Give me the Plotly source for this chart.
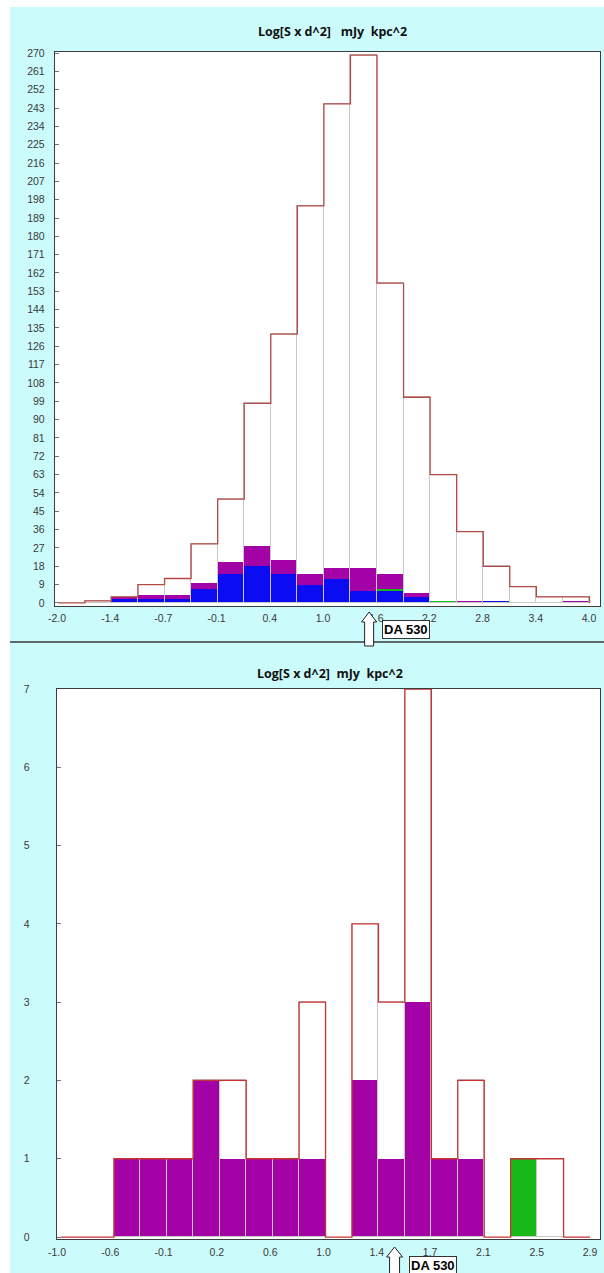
import numpy as np
import plotly.graph_objects as go

W, H = 604, 1273

# ---------------- data: upper histogram ----------------
top_bin_start = -1.985
top_bin_width = 0.2995
top_total  = [0, 1, 3, 9, 12, 29, 51, 98, 132, 195, 245, 269, 157, 101, 63, 35, 18, 8, 3, 3]
top_blue   = [0, 0, 2, 2, 2, 7, 14, 18, 14, 9, 12, 6, 6, 3, 0, 0, 1, 0, 0, 0]
top_green  = [0, 0, 0, 0, 0, 0, 0, 0, 0, 0, 0, 0, 1, 0, 1, 0, 0, 0, 0, 0]
top_purple = [0, 0, 1, 2, 2, 3, 6, 10, 7, 5, 5, 11, 7, 2, 0, 1, 0, 0, 0, 1]
top_tick_vals = [-2.0, -1.4, -0.8, -0.2, 0.4, 1.0, 1.6, 2.2, 2.8, 3.4, 4.0]
top_tick_text = ["-2.0", "-1.4", "-0.7", "-0.1", "0.4", "1.0", "1.6", "2.2", "2.8", "3.4", "4.0"]
top_da530 = 1.52

# ---------------- data: lower histogram ----------------
bot_bin_start = -0.97
bot_bin_width = 0.1935
bot_total  = [0, 0, 1, 1, 1, 2, 2, 1, 1, 3, 0, 4, 3, 7, 1, 2, 0, 1, 1, 0]
bot_blue   = [0, 0, 0, 0, 0, 0, 0, 0, 0, 0, 0, 0, 0, 0, 0, 0, 0, 0, 0, 0]
bot_green  = [0, 0, 0, 0, 0, 0, 0, 0, 0, 0, 0, 0, 0, 0, 0, 0, 0, 1, 0, 0]
bot_purple = [0, 0, 1, 1, 1, 2, 1, 1, 1, 1, 0, 2, 1, 3, 1, 1, 0, 0, 0, 0]
bot_tick_vals = [-1.0, -0.61, -0.22, 0.17, 0.56, 0.95, 1.34, 1.73, 2.12, 2.51, 2.9]
bot_tick_text = ["-1.0", "-0.6", "-0.1", "0.2", "0.6", "1.0", "1.4", "1.7", "2.1", "2.5", "2.9"]
bot_da530 = 1.47

title_text = "Log[S x d^2]\u00a0\u00a0\u00a0mJy\u00a0\u00a0kpc^2"
title_text2 = "Log[S x d^2]\u00a0\u00a0mJy\u00a0\u00a0kpc^2"

BLUE = "#0c0cf2"
GREEN = "#18b818"
PURPLE = "#a202a6"
CYAN = "#cbfbfb"
SEP = "rgba(200,200,200,1)"


def px_dom(a, b, total):
    return [a / total, b / total]


def py_dom(top_px, bottom_px):
    return [1 - bottom_px / H, 1 - top_px / H]


def nz(vals):
    return [v if v else None for v in vals]


def add_hist(fig, start, width, total, blue, green, purple, xa, ya, red):
    n = len(total)
    edges = start + width * np.arange(n + 1)
    centers = (edges[:-1] + edges[1:]) / 2
    blue = np.array(blue)
    green = np.array(green)
    purple = np.array(purple)
    common = dict(x=centers, width=width, xaxis=xa, yaxis=ya, showlegend=False,
                  hoverinfo="skip")
    fig.add_trace(go.Bar(y=nz(blue), base=0, marker=dict(color=BLUE, line=dict(width=0)), **common))
    fig.add_trace(go.Bar(y=nz(green), base=blue, marker=dict(color=GREEN, line=dict(width=0)), **common))
    fig.add_trace(go.Bar(y=nz(purple), base=blue + green,
                         marker=dict(color=PURPLE, line=dict(width=0)), **common))
    fig.add_trace(go.Bar(y=nz(total), base=0,
                         marker=dict(color="rgba(0,0,0,0)", line=dict(color=SEP, width=1)), **common))
    sx = [edges[0]] + list(edges) + [edges[-1]]
    sy = [0] + list(total) + [total[-1]]
    sx.append(edges[-1])
    sy.append(0)
    fig.add_trace(go.Scatter(x=sx, y=sy, mode="lines", line=dict(color=red, width=1.3, shape="hv"),
                             xaxis=xa, yaxis=ya, showlegend=False, hoverinfo="skip"))


fig = go.Figure()
add_hist(fig, top_bin_start, top_bin_width, top_total, top_blue, top_green, top_purple, "x", "y", "#b24a46")
add_hist(fig, bot_bin_start, bot_bin_width, bot_total, bot_blue, bot_green, bot_purple, "x2", "y2", "#c43434")

# geometry
top_xdom = px_dom(55, 600, W)
top_xrng = [-2.0 - 2 / 88.67, -2.0 - 2 / 88.67 + 545 / 88.67]
top_ydom = py_dom(52, 606)
top_yrng = [-1.5, 270.5]

bot_xdom = px_dom(57, 600, W)
bot_xrng = [-1.0, -1.0 + 543 / 136.67]
bot_ydom = py_dom(689, 1239)
bot_yrng = [-0.025, 7.0]

tickfont = dict(family="Liberation Sans, Arial, sans-serif", size=10.5, color="#3a3a3a")
axis_common = dict(showline=True, mirror=True, linecolor="#3c3c3c", linewidth=1.4,
                   showgrid=False, zeroline=False, tickfont=tickfont, fixedrange=True,
                   automargin=False)

fig.update_layout(
    width=W, height=H,
    margin=dict(l=0, r=0, t=0, b=0, pad=0, autoexpand=False),
    paper_bgcolor=CYAN,
    plot_bgcolor="white",
    barmode="overlay",
    bargap=0,
    showlegend=False,
    xaxis=dict(domain=top_xdom, range=top_xrng, anchor="y", tickmode="array",
               tickvals=top_tick_vals, ticktext=top_tick_text, ticks="", ticklabelstandoff=2,
               **axis_common),
    yaxis=dict(domain=top_ydom, range=top_yrng, anchor="x", tickmode="linear", tick0=0, dtick=9,
               ticks="inside", ticklen=4, tickcolor="#777", ticklabelstandoff=7, **axis_common),
    xaxis2=dict(domain=bot_xdom, range=bot_xrng, anchor="y2", tickmode="array",
                tickvals=bot_tick_vals, ticktext=bot_tick_text, ticks="", ticklabelstandoff=3,
                **axis_common),
    yaxis2=dict(domain=bot_ydom, range=bot_yrng, anchor="x2", tickmode="linear", tick0=0, dtick=1,
                ticks="inside", ticklen=4, tickcolor="#777", ticklabelstandoff=24, **axis_common),
)

# background strips and separator
fig.add_shape(type="rect", xref="paper", yref="paper", x0=0, x1=10 / W, y0=0, y1=1,
              fillcolor="white", line=dict(width=0), layer="below")
fig.add_shape(type="rect", xref="paper", yref="paper", x0=0, x1=1, y0=1 - 7 / H, y1=1,
              fillcolor="white", line=dict(width=0), layer="below")
fig.add_shape(type="line", xref="paper", yref="paper", x0=10 / W, x1=1, y0=1 - 642 / H, y1=1 - 642 / H,
              line=dict(color="#3a3a3a", width=1.5))

title_font = dict(family="Open Sans, Noto Sans, sans-serif", size=12.5, color="#111")
fig.add_annotation(text="<b>" + title_text + "</b>", xref="paper", yref="paper",
                   x=332 / W, y=1 - 31 / H, showarrow=False, font=title_font,
                   xanchor="center", yanchor="middle")
fig.add_annotation(text="<b>" + title_text2 + "</b>", xref="paper", yref="paper",
                   x=330 / W, y=1 - 673 / H, showarrow=False, font=title_font,
                   xanchor="center", yanchor="middle")


def data_to_paper(v, rng, dom):
    return dom[0] + (v - rng[0]) / (rng[1] - rng[0]) * (dom[1] - dom[0])


arrow_path = "M 0,-6 L 7.5,-16 L 4.5,-16 L 4.5,-40 L -4.5,-40 L -4.5,-16 L -7.5,-16 Z"
arrow_path2 = "M 0,-8 L 8,-18 L 5,-18 L 5,-40 L -5,-40 L -5,-18 L -8,-18 Z"
box_font = dict(family="Liberation Sans, Arial, sans-serif", size=13, color="black")

for val, rng, dom, ydom, path, box_y, xshift in [
    (top_da530, top_xrng, top_xdom, top_ydom, arrow_path, 630, 13),
    (bot_da530, bot_xrng, bot_xdom, bot_ydom, arrow_path2, 1265, 14),
]:
    ax = data_to_paper(val, rng, dom)
    fig.add_shape(type="path", xref="paper", yref="paper", xsizemode="pixel", ysizemode="pixel",
                  xanchor=ax, yanchor=ydom[0], path=path, fillcolor="white",
                  line=dict(color="#222", width=1))
    fig.add_annotation(text="<b>DA 530</b>", xref="paper", yref="paper", x=ax, y=1 - box_y / H,
                       xanchor="left", yanchor="middle", xshift=xshift, showarrow=False,
                       font=box_font, bgcolor="white", bordercolor="#333", borderwidth=1,
                       borderpad=1)

fig.write_html("out.html")
